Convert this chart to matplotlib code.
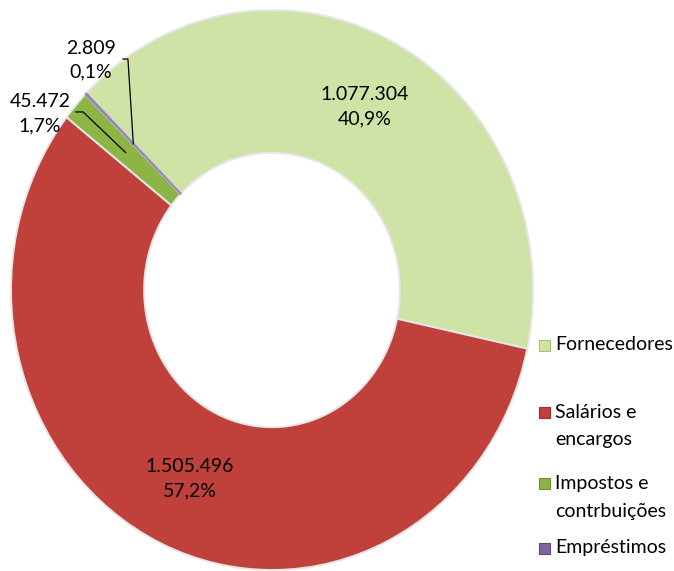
import numpy as np
import matplotlib
matplotlib.use('Agg')
from matplotlib import pyplot as plt
from matplotlib.patches import Rectangle

# data
categories = ['Fornecedores', 'Salários e encargos', 'Impostos e contrbuições', 'Empréstimos']
values = [1077304, 1505496, 45472, 2809]
legend_lines = [['Fornecedores'], ['Salários e', 'encargos'], ['Impostos e', 'contrbuições'], ['Empréstimos']]
colors = ['#d0e3a6', '#c0403c', '#8cb545', '#8064a2']
legend_edges = ['#a9c07a', '#9e2f2c', '#6b9030', '#5f4a80']

plt.rcParams['font.family'] = ['Lato', 'DejaVu Sans']

W, H = 674, 571
fig = plt.figure(figsize=(W / 100, H / 100), dpi=100)

# donut is a bit taller than wide in the reference
cx, cy, rx, ry = 272, 290, 261, 280
ax = fig.add_axes([(cx - rx) / W, (H - cy - ry) / H, 2 * rx / W, 2 * ry / H])

wedges, _ = ax.pie(values, colors=colors, startangle=135.3, counterclock=False,
                   radius=1, wedgeprops=dict(width=0.51, edgecolor='#e6e6e6', linewidth=1.4))
# the tiny slice would vanish under the white border
wedges[3].set_edgecolor('#9c88c0')
wedges[3].set_linewidth(1.0)
wedges[3].set_zorder(3)
ax.set_aspect('auto')
ax.set_xlim(-1, 1)
ax.set_ylim(-1, 1)
ax.axis('off')

total = sum(values)

def label_text(v):
    num = f'{v:,}'.replace(',', '.')
    pct = f'{v / total * 100:.1f}'.replace('.', ',') + '%'
    return num + '\n' + pct

def mid_point(w, r=0.745):
    a = np.deg2rad((w.theta1 + w.theta2) / 2)
    return r * np.cos(a), r * np.sin(a)

# big slices: label inside the ring
for i in (0, 1):
    x, y = mid_point(wedges[i])
    ax.text(x, y, label_text(values[i]), ha='center', va='center',
            fontsize=14, linespacing=1.5, color='black')

# small slices: label outside with a leader line
outside = {3: ((-0.693, 0.821), (-0.571, 0.825), (-0.552, 0.825)),
           2: ((-0.889, 0.629), (-0.751, 0.636), (-0.724, 0.636))}
for i, (txt_pos, p0, p1) in outside.items():
    ax.text(txt_pos[0], txt_pos[1], label_text(values[i]), ha='center', va='center',
            fontsize=14, linespacing=1.5, color='black')
    x, y = mid_point(wedges[i])
    ax.plot([p0[0], p1[0], x], [p0[1], p1[1], y], color='black', lw=0.9, clip_on=False, zorder=4)

# legend drawn by hand (Excel-style uneven spacing)
leg_x = 545
leg_y = [345, 412, 483, 548]
line_gap = 28
for i, lines in enumerate(legend_lines):
    y0 = leg_y[i]
    fig.patches.append(Rectangle(((leg_x - 6) / W, (H - y0 - 6) / H), 11 / W, 11 / H,
                                 transform=fig.transFigure, facecolor=colors[i],
                                 edgecolor=legend_edges[i], lw=0.8))
    for j, s in enumerate(lines):
        fig.text((leg_x + 10) / W, (H - y0 - j * line_gap) / H, s, ha='left', va='center',
                 fontsize=14, color='black')

fig.savefig('out.png', dpi=100)
